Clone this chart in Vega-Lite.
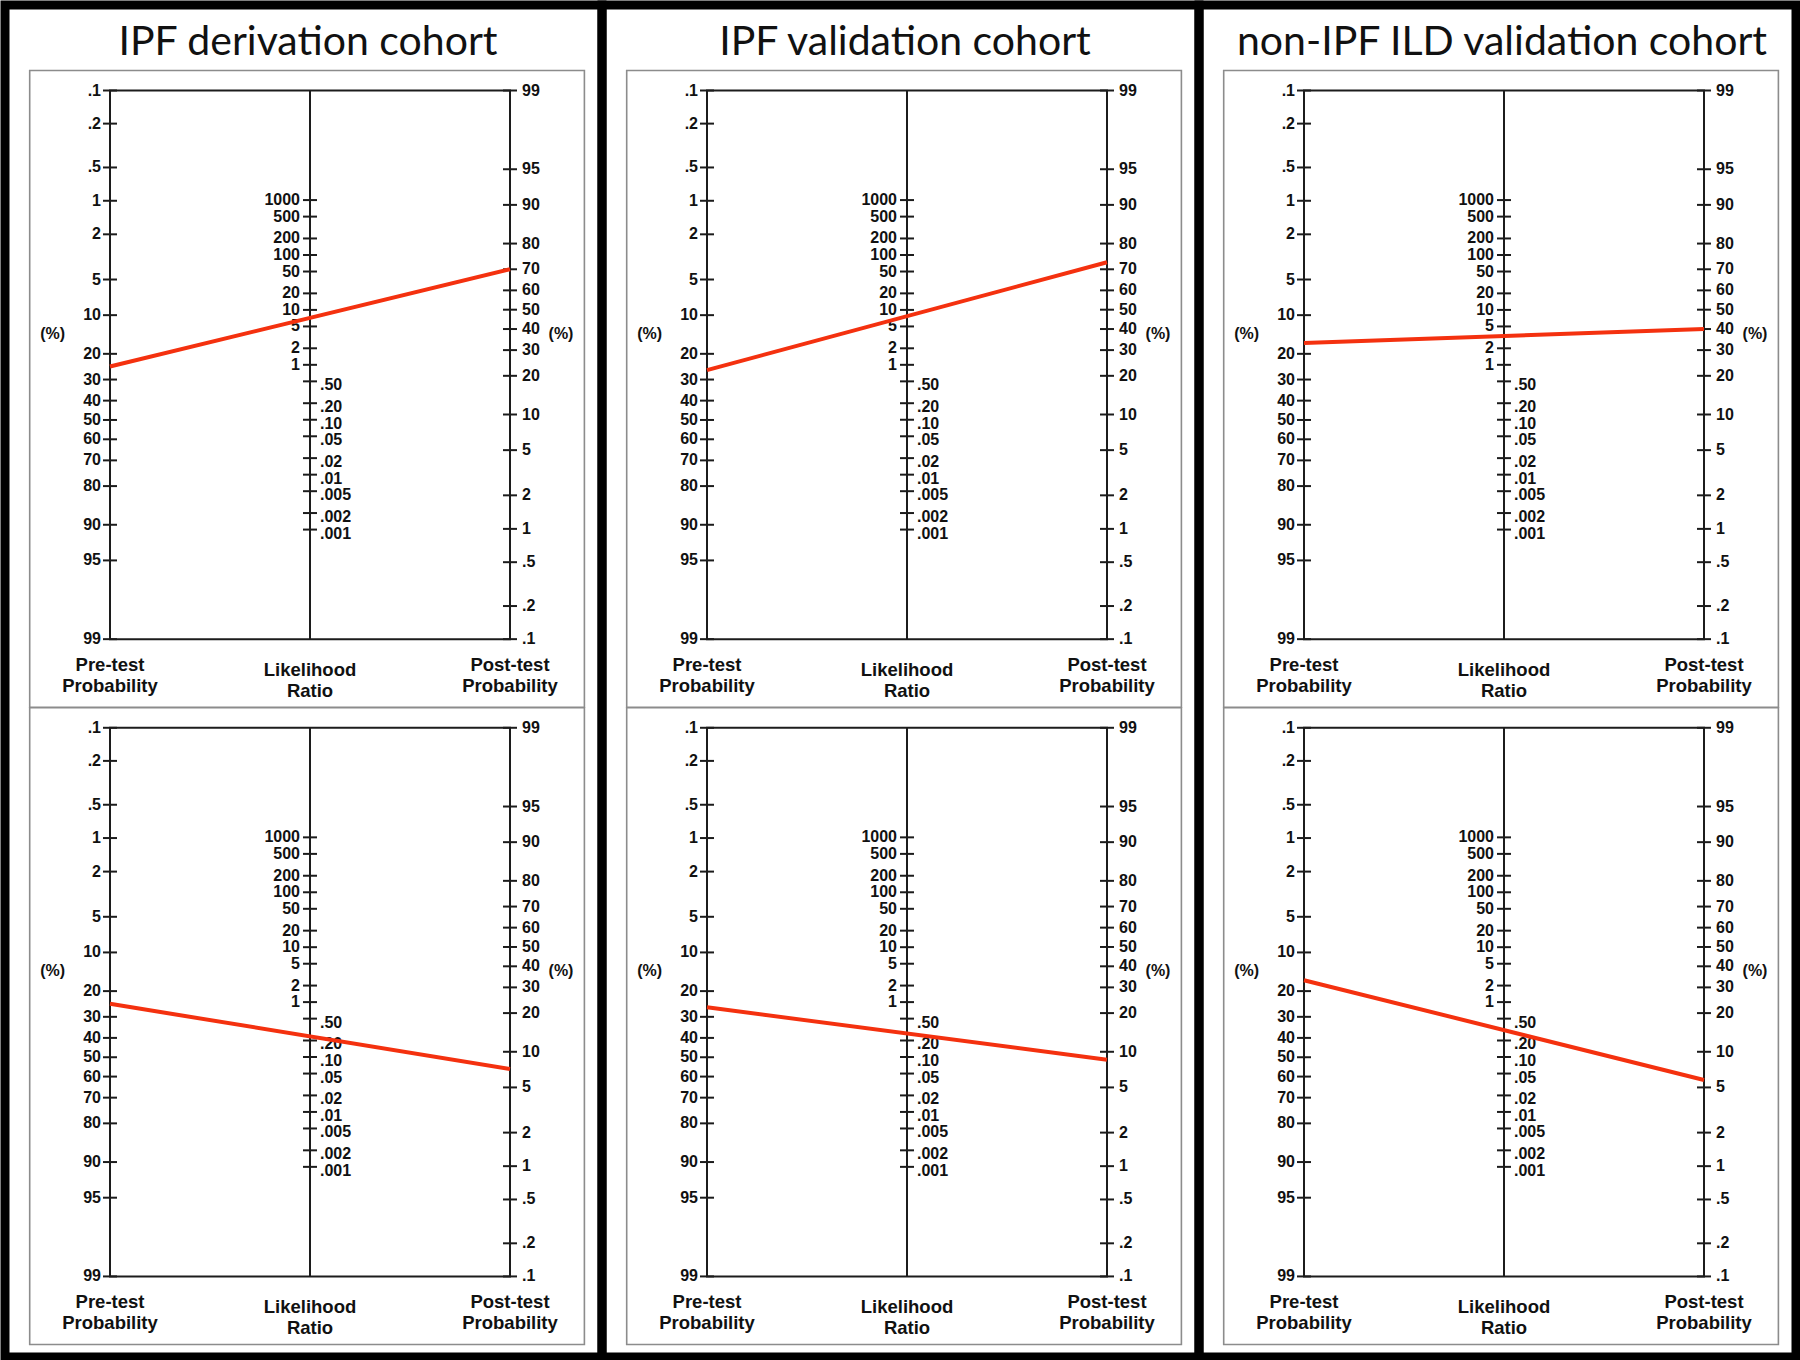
{
  "$schema": "https://vega.github.io/schema/vega-lite/v6.json",
  "padding": 0,
  "background": "white",
  "config": {"view": {"stroke": "#000000", "strokeWidth": 9}, "axis": {"disable": true}},
  "data": {"values": [
    {"kind": "title", "cohort": "IPF derivation cohort", "panel": "top"},
    {"kind": "title", "cohort": "IPF validation cohort", "panel": "top"},
    {"kind": "title", "cohort": "non-IPF ILD validation cohort", "panel": "top"},
    {"kind": "frame"},
    {"kind": "nomo"},
    {"kind": "pct", "axis": "L", "lab": "(%)"},
    {"kind": "pct", "axis": "R", "lab": "(%)"},
    {"kind": "axtitle", "axis": "L", "lab": "Pre-test\nProbability"},
    {"kind": "axtitle", "axis": "M", "lab": "Likelihood\nRatio"},
    {"kind": "axtitle", "axis": "R", "lab": "Post-test\nProbability"},
    {"kind": "tick", "axis": "L", "v": 0.1, "lab": ".1"},
    {"kind": "tick", "axis": "L", "v": 0.2, "lab": ".2"},
    {"kind": "tick", "axis": "L", "v": 0.5, "lab": ".5"},
    {"kind": "tick", "axis": "L", "v": 1, "lab": "1"},
    {"kind": "tick", "axis": "L", "v": 2, "lab": "2"},
    {"kind": "tick", "axis": "L", "v": 5, "lab": "5"},
    {"kind": "tick", "axis": "L", "v": 10, "lab": "10"},
    {"kind": "tick", "axis": "L", "v": 20, "lab": "20"},
    {"kind": "tick", "axis": "L", "v": 30, "lab": "30"},
    {"kind": "tick", "axis": "L", "v": 40, "lab": "40"},
    {"kind": "tick", "axis": "L", "v": 50, "lab": "50"},
    {"kind": "tick", "axis": "L", "v": 60, "lab": "60"},
    {"kind": "tick", "axis": "L", "v": 70, "lab": "70"},
    {"kind": "tick", "axis": "L", "v": 80, "lab": "80"},
    {"kind": "tick", "axis": "L", "v": 90, "lab": "90"},
    {"kind": "tick", "axis": "L", "v": 95, "lab": "95"},
    {"kind": "tick", "axis": "L", "v": 99, "lab": "99"},
    {"kind": "tick", "axis": "R", "v": 99, "lab": "99"},
    {"kind": "tick", "axis": "R", "v": 95, "lab": "95"},
    {"kind": "tick", "axis": "R", "v": 90, "lab": "90"},
    {"kind": "tick", "axis": "R", "v": 80, "lab": "80"},
    {"kind": "tick", "axis": "R", "v": 70, "lab": "70"},
    {"kind": "tick", "axis": "R", "v": 60, "lab": "60"},
    {"kind": "tick", "axis": "R", "v": 50, "lab": "50"},
    {"kind": "tick", "axis": "R", "v": 40, "lab": "40"},
    {"kind": "tick", "axis": "R", "v": 30, "lab": "30"},
    {"kind": "tick", "axis": "R", "v": 20, "lab": "20"},
    {"kind": "tick", "axis": "R", "v": 10, "lab": "10"},
    {"kind": "tick", "axis": "R", "v": 5, "lab": "5"},
    {"kind": "tick", "axis": "R", "v": 2, "lab": "2"},
    {"kind": "tick", "axis": "R", "v": 1, "lab": "1"},
    {"kind": "tick", "axis": "R", "v": 0.5, "lab": ".5"},
    {"kind": "tick", "axis": "R", "v": 0.2, "lab": ".2"},
    {"kind": "tick", "axis": "R", "v": 0.1, "lab": ".1"},
    {"kind": "tick", "axis": "M", "v": 1000, "lab": "1000"},
    {"kind": "tick", "axis": "M", "v": 500, "lab": "500"},
    {"kind": "tick", "axis": "M", "v": 200, "lab": "200"},
    {"kind": "tick", "axis": "M", "v": 100, "lab": "100"},
    {"kind": "tick", "axis": "M", "v": 50, "lab": "50"},
    {"kind": "tick", "axis": "M", "v": 20, "lab": "20"},
    {"kind": "tick", "axis": "M", "v": 10, "lab": "10"},
    {"kind": "tick", "axis": "M", "v": 5, "lab": "5"},
    {"kind": "tick", "axis": "M", "v": 2, "lab": "2"},
    {"kind": "tick", "axis": "M", "v": 1, "lab": "1"},
    {"kind": "tick", "axis": "M", "v": 0.5, "lab": ".50"},
    {"kind": "tick", "axis": "M", "v": 0.2, "lab": ".20"},
    {"kind": "tick", "axis": "M", "v": 0.1, "lab": ".10"},
    {"kind": "tick", "axis": "M", "v": 0.05, "lab": ".05"},
    {"kind": "tick", "axis": "M", "v": 0.02, "lab": ".02"},
    {"kind": "tick", "axis": "M", "v": 0.01, "lab": ".01"},
    {"kind": "tick", "axis": "M", "v": 0.005, "lab": ".005"},
    {"kind": "tick", "axis": "M", "v": 0.002, "lab": ".002"},
    {"kind": "tick", "axis": "M", "v": 0.001, "lab": ".001"},
    {"kind": "line", "cohort": "IPF derivation cohort", "panel": "top", "axis": "L", "v": 24.6},
    {"kind": "line", "cohort": "IPF derivation cohort", "panel": "top", "axis": "R", "v": 70},
    {"kind": "line", "cohort": "IPF derivation cohort", "panel": "bottom", "axis": "L", "v": 24.6},
    {"kind": "line", "cohort": "IPF derivation cohort", "panel": "bottom", "axis": "R", "v": 7.2},
    {"kind": "line", "cohort": "IPF validation cohort", "panel": "top", "axis": "L", "v": 26},
    {"kind": "line", "cohort": "IPF validation cohort", "panel": "top", "axis": "R", "v": 73},
    {"kind": "line", "cohort": "IPF validation cohort", "panel": "bottom", "axis": "L", "v": 26},
    {"kind": "line", "cohort": "IPF validation cohort", "panel": "bottom", "axis": "R", "v": 8.6},
    {"kind": "line", "cohort": "non-IPF ILD validation cohort", "panel": "top", "axis": "L", "v": 16.6},
    {"kind": "line", "cohort": "non-IPF ILD validation cohort", "panel": "top", "axis": "R", "v": 40},
    {"kind": "line", "cohort": "non-IPF ILD validation cohort", "panel": "bottom", "axis": "L", "v": 16.6},
    {"kind": "line", "cohort": "non-IPF ILD validation cohort", "panel": "bottom", "axis": "R", "v": 5.8}
  ]},
  "transform": [
    {"calculate": "datum.cohort ? [datum.cohort] : ['IPF derivation cohort', 'IPF validation cohort', 'non-IPF ILD validation cohort']", "as": "cohs"},
    {"flatten": ["cohs"], "as": ["coh"]},
    {"calculate": "datum.panel ? [datum.panel] : ['top', 'bottom']", "as": "pns"},
    {"flatten": ["pns"], "as": ["pn"]},
    {"calculate": "datum.pn == 'bottom' ? 13.36 : 0", "as": "off"},
    {"calculate": "(datum.kind == 'tick' || datum.kind == 'line') ? (datum.axis == 'L' ? log(datum.v / (100 - datum.v)) + 6.9068 : (datum.axis == 'R' ? 4.5951 - log(datum.v / (100 - datum.v)) : (11.5019 - log(datum.v)) / 2)) : (datum.kind == 'axtitle' ? (datum.axis == 'M' ? 12.145 : 12.035) : (datum.kind == 'pct' ? 5.105 : (datum.kind == 'title' ? -0.74 : (datum.kind == 'frame' ? -0.42 : 0))))", "as": "zl"},
    {"calculate": "datum.zl + datum.off", "as": "z"},
    {"calculate": "datum.kind == 'frame' ? datum.off + 12.93 : datum.off + 11.5019", "as": "zb"},
    {"calculate": "datum.kind == 'pct' ? (datum.axis == 'L' ? -0.2865 : 2.255) : (datum.axis == 'L' ? 0 : (datum.axis == 'R' ? 2 : 1))", "as": "xp"}
  ],
  "facet": {"column": {"field": "coh", "type": "nominal", "header": null, "sort": ["IPF derivation cohort", "IPF validation cohort", "non-IPF ILD validation cohort"]}},
  "spacing": 0,
  "bounds": "flush",
  "spec": {
    "width": 597,
    "height": 1352,
    "layer": [
      {
        "transform": [{"filter": "datum.kind == 'frame'"}],
        "mark": {"type": "rect", "fillOpacity": 0, "stroke": "#8c8c8c", "strokeWidth": 1.6},
        "encoding": {
          "x": {"datum": -0.4015, "type": "quantitative", "scale": {"domain": [-0.525, 2.46], "nice": false, "zero": false}, "axis": null},
          "x2": {"datum": 2.372},
          "y": {"field": "z", "type": "quantitative", "scale": {"domain": [-1.7925, 26.551], "nice": false, "zero": false, "reverse": true}, "axis": null},
          "y2": {"field": "zb"}
        }
      },
      {
        "transform": [{"filter": "datum.kind == 'nomo'"}],
        "mark": {"type": "rect", "fillOpacity": 0, "stroke": "#1c1c1c", "strokeWidth": 2},
        "encoding": {
          "x": {"datum": 0, "type": "quantitative", "scale": {"domain": [-0.525, 2.46], "nice": false, "zero": false}, "axis": null},
          "x2": {"datum": 2},
          "y": {"field": "z", "type": "quantitative", "scale": {"domain": [-1.7925, 26.551], "nice": false, "zero": false, "reverse": true}, "axis": null},
          "y2": {"field": "zb"}
        }
      },
      {
        "transform": [{"filter": "datum.kind == 'nomo'"}],
        "mark": {"type": "rule", "color": "#1c1c1c", "strokeWidth": 2},
        "encoding": {
          "x": {"datum": 1, "type": "quantitative", "scale": {"domain": [-0.525, 2.46], "nice": false, "zero": false}, "axis": null},
          "y": {"field": "z", "type": "quantitative", "scale": {"domain": [-1.7925, 26.551], "nice": false, "zero": false, "reverse": true}, "axis": null},
          "y2": {"field": "zb"}
        }
      },
      {
        "transform": [{"filter": "datum.kind == 'tick'"}],
        "mark": {"type": "tick", "orient": "horizontal", "size": 14, "thickness": 2, "color": "#1c1c1c", "opacity": 1},
        "encoding": {
          "x": {"field": "xp", "type": "quantitative", "scale": {"domain": [-0.525, 2.46], "nice": false, "zero": false}, "axis": null},
          "y": {"field": "z", "type": "quantitative", "scale": {"domain": [-1.7925, 26.551], "nice": false, "zero": false, "reverse": true}, "axis": null}
        }
      },
      {
        "transform": [{"filter": "datum.kind == 'tick' && datum.axis == 'L'"}],
        "mark": {"type": "text", "align": "right", "baseline": "middle", "dx": -9, "font": "Liberation Sans", "fontWeight": "bold", "fontSize": 16, "color": "#111111"},
        "encoding": {
          "x": {"field": "xp", "type": "quantitative", "scale": {"domain": [-0.525, 2.46], "nice": false, "zero": false}, "axis": null},
          "y": {"field": "z", "type": "quantitative", "scale": {"domain": [-1.7925, 26.551], "nice": false, "zero": false, "reverse": true}, "axis": null},
          "text": {"field": "lab"}
        }
      },
      {
        "transform": [{"filter": "datum.kind == 'tick' && datum.axis == 'R'"}],
        "mark": {"type": "text", "align": "left", "baseline": "middle", "dx": 12, "font": "Liberation Sans", "fontWeight": "bold", "fontSize": 16, "color": "#111111"},
        "encoding": {
          "x": {"field": "xp", "type": "quantitative", "scale": {"domain": [-0.525, 2.46], "nice": false, "zero": false}, "axis": null},
          "y": {"field": "z", "type": "quantitative", "scale": {"domain": [-1.7925, 26.551], "nice": false, "zero": false, "reverse": true}, "axis": null},
          "text": {"field": "lab"}
        }
      },
      {
        "transform": [{"filter": "datum.kind == 'tick' && datum.axis == 'M' && datum.v >= 1"}],
        "mark": {"type": "text", "align": "right", "baseline": "middle", "dx": -10, "font": "Liberation Sans", "fontWeight": "bold", "fontSize": 16, "color": "#111111"},
        "encoding": {
          "x": {"field": "xp", "type": "quantitative", "scale": {"domain": [-0.525, 2.46], "nice": false, "zero": false}, "axis": null},
          "y": {"field": "z", "type": "quantitative", "scale": {"domain": [-1.7925, 26.551], "nice": false, "zero": false, "reverse": true}, "axis": null},
          "text": {"field": "lab"}
        }
      },
      {
        "transform": [{"filter": "datum.kind == 'tick' && datum.axis == 'M' && datum.v < 1"}],
        "mark": {"type": "text", "align": "left", "baseline": "middle", "dx": 10, "dy": 4, "font": "Liberation Sans", "fontWeight": "bold", "fontSize": 16, "color": "#111111"},
        "encoding": {
          "x": {"field": "xp", "type": "quantitative", "scale": {"domain": [-0.525, 2.46], "nice": false, "zero": false}, "axis": null},
          "y": {"field": "z", "type": "quantitative", "scale": {"domain": [-1.7925, 26.551], "nice": false, "zero": false, "reverse": true}, "axis": null},
          "text": {"field": "lab"}
        }
      },
      {
        "transform": [{"filter": "datum.kind == 'pct'"}],
        "mark": {"type": "text", "align": "center", "baseline": "middle", "font": "Liberation Sans", "fontWeight": "bold", "fontSize": 16, "color": "#111111"},
        "encoding": {
          "x": {"field": "xp", "type": "quantitative", "scale": {"domain": [-0.525, 2.46], "nice": false, "zero": false}, "axis": null},
          "y": {"field": "z", "type": "quantitative", "scale": {"domain": [-1.7925, 26.551], "nice": false, "zero": false, "reverse": true}, "axis": null},
          "text": {"field": "lab"}
        }
      },
      {
        "transform": [{"filter": "datum.kind == 'axtitle'"}],
        "mark": {"type": "text", "align": "center", "baseline": "middle", "lineBreak": "\n", "lineHeight": 21, "font": "Liberation Sans", "fontWeight": "bold", "fontSize": 18.5, "color": "#111111"},
        "encoding": {
          "x": {"field": "xp", "type": "quantitative", "scale": {"domain": [-0.525, 2.46], "nice": false, "zero": false}, "axis": null},
          "y": {"field": "z", "type": "quantitative", "scale": {"domain": [-1.7925, 26.551], "nice": false, "zero": false, "reverse": true}, "axis": null},
          "text": {"field": "lab"}
        }
      },
      {
        "transform": [{"filter": "datum.kind == 'title'"}],
        "mark": {"type": "text", "align": "center", "baseline": "alphabetic", "font": "Lato", "fontSize": 41, "color": "#111111"},
        "encoding": {
          "x": {"datum": 0.99, "type": "quantitative", "scale": {"domain": [-0.525, 2.46], "nice": false, "zero": false}, "axis": null},
          "y": {"field": "z", "type": "quantitative", "scale": {"domain": [-1.7925, 26.551], "nice": false, "zero": false, "reverse": true}, "axis": null},
          "text": {"field": "coh"}
        }
      },
      {
        "transform": [{"filter": "datum.kind == 'line'"}],
        "mark": {"type": "line", "color": "#f4310f", "strokeWidth": 4},
        "encoding": {
          "x": {"field": "xp", "type": "quantitative", "scale": {"domain": [-0.525, 2.46], "nice": false, "zero": false}, "axis": null},
          "y": {"field": "z", "type": "quantitative", "scale": {"domain": [-1.7925, 26.551], "nice": false, "zero": false, "reverse": true}, "axis": null},
          "detail": {"field": "pn"}
        }
      }
    ]
  }
}
